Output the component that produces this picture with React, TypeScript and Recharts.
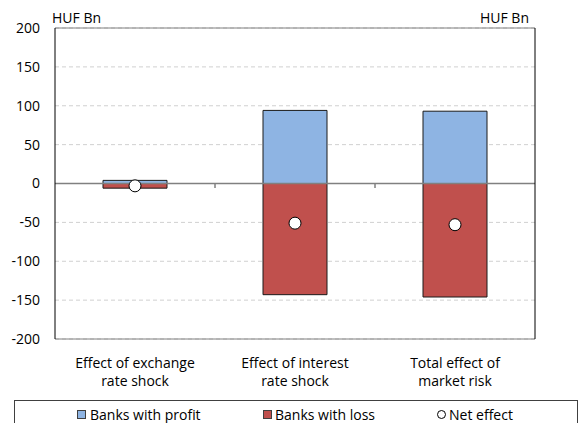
import {
  Bar,
  CartesianGrid,
  ComposedChart,
  Line,
  ReferenceLine,
  XAxis,
  YAxis,
} from "recharts";

const categories = [
  "Effect of exchange\nrate shock",
  "Effect of interest\nrate shock",
  "Total effect of\nmarket risk",
];
const profit = [4, 94, 93];
const loss = [-6, -143, -146];
const netEffect = [-3, -51, -53];
const yTicks = [-200, -150, -100, -50, 0, 50, 100, 150, 200];

const FONT = "'Open Sans', 'Liberation Sans', Arial, sans-serif";
const FS = 14;

const data = categories.map((c, i) => ({
  name: c,
  profit: profit[i],
  loss: loss[i],
  net: netEffect[i],
}));

const CatTick = (props: any) => {
  const { x, y, payload } = props;
  const lines = String(payload.value).split("\n");
  return (
    <g transform={`translate(${x},${y})`}>
      {lines.map((l: string, i: number) => (
        <text
          key={i}
          x={0}
          y={21 + i * 18}
          textAnchor="middle"
          fontSize={FS}
          fontFamily={FONT}
          fill="#000"
        >
          {l}
        </text>
      ))}
    </g>
  );
};

const itemStyle: any = {
  position: "absolute",
  top: 4,
  display: "flex",
  alignItems: "center",
  whiteSpace: "nowrap",
};

const LegendBox = () => (
  <div
    style={{
      position: "absolute",
      left: 14,
      top: 400,
      width: 562,
      height: 30,
      border: "1px solid #404040",
      fontFamily: FONT,
      fontSize: FS,
      color: "#000",
    }}
  >
    <span style={{ ...itemStyle, left: 62 }}>
      <span style={{ width: 7, height: 7, background: "#8EB4E3", border: "1px solid #404040", marginRight: 4 }} />
      Banks with profit
    </span>
    <span style={{ ...itemStyle, left: 248 }}>
      <span style={{ width: 7, height: 7, background: "#C0504D", border: "1px solid #404040", marginRight: 3 }} />
      Banks with loss
    </span>
    <span style={{ ...itemStyle, left: 422 }}>
      <span style={{ width: 7, height: 7, background: "#fff", border: "1px solid #000", borderRadius: "50%", marginRight: 3 }} />
      Net effect
    </span>
  </div>
);

const App = () => {
  return (
    <div style={{ position: "absolute", left: 0, top: 0, width: 584, height: 423 }}>
      <ComposedChart
        width={584}
        height={423}
        data={data}
        stackOffset="sign"
        margin={{ top: 28, right: 0, left: 0, bottom: 0 }}
      >
        <CartesianGrid yAxisId="left" vertical={false} stroke="#d0d0d0" strokeDasharray="4 3" />
        <XAxis
          dataKey="name"
          height={84}
          axisLine={false}
          tickLine={false}
          interval={0}
          tick={<CatTick />}
        />
        <YAxis
          yAxisId="left"
          domain={[-200, 200]}
          ticks={yTicks}
          width={55}
          tickSize={0}
          tickMargin={15}
          axisLine={{ stroke: "#000" }}
          tickLine={false}
          tick={{ fontSize: FS, fontFamily: FONT, fill: "#000" }}
        />
        <YAxis
          yAxisId="right"
          orientation="right"
          domain={[-200, 200]}
          ticks={yTicks}
          width={49}
          tickSize={0}
          tickMargin={13}
          axisLine={{ stroke: "#000" }}
          tickLine={false}
          tick={{ fontSize: FS, fontFamily: FONT, fill: "#000", textAnchor: "start" }}
        />
        <ReferenceLine yAxisId="left" y={200} stroke="#808080" />
        <ReferenceLine yAxisId="left" y={-200} stroke="#808080" />
        <Bar
          yAxisId="left"
          dataKey="profit"
          stackId="a"
          barSize={64}
          fill="#8EB4E3"
          stroke="#1a1a1a"
          isAnimationActive={false}
        />
        <Bar
          yAxisId="left"
          dataKey="loss"
          stackId="a"
          barSize={64}
          fill="#C0504D"
          stroke="#1a1a1a"
          isAnimationActive={false}
        />
        <ReferenceLine yAxisId="left" y={0} stroke="#808080" strokeWidth={1.5} />
        <line x1={215} y1={183} x2={215} y2={188} stroke="#404040" />
        <line x1={375} y1={183} x2={375} y2={188} stroke="#404040" />
        <Line
          yAxisId="left"
          dataKey="net"
          stroke="none"
          strokeWidth={0}
          dot={{ r: 6, fill: "#fff", stroke: "#000", strokeWidth: 1 }}
          activeDot={false}
          isAnimationActive={false}
        />
        <text x={52} y={23} fontSize={FS} fontFamily={FONT} fill="#000">
          HUF Bn
        </text>
        <text x={529} y={23} fontSize={FS} fontFamily={FONT} fill="#000" textAnchor="end">
          HUF Bn
        </text>
      </ComposedChart>
      <LegendBox />
    </div>
  );
};

export default App;
